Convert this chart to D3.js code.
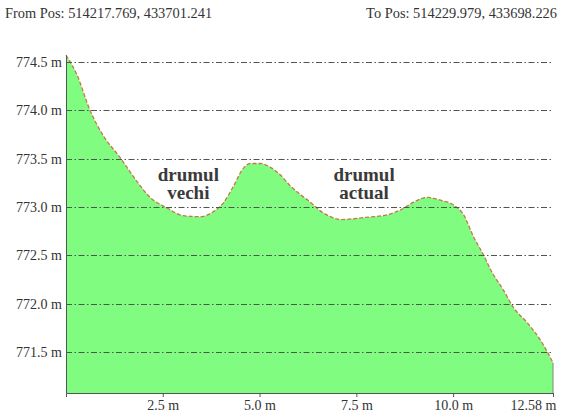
<!DOCTYPE html>
<html>
<head>
<meta charset="utf-8">
<script src="https://cdn.jsdelivr.net/npm/d3@7"></script>
<style>
  body { margin: 0; background: #fff; }
  svg { display: block; }
</style>
</head>
<body>
<svg id="chart" width="570" height="413"></svg>
<script>
// profile distance (m) and elevation (m)
const dist = [0, 0.28, 0.62, 0.96, 1.4, 1.84, 2.17, 2.61, 3.03, 3.47, 3.8, 4.06, 4.32, 4.58, 4.76,
  5.02, 5.28, 5.54, 5.79, 6.05, 6.31, 6.57, 6.83, 7.09, 7.68, 8.3, 8.64, 8.98, 9.34, 9.67,
  10.01, 10.27, 10.53, 10.79, 10.97, 11.3, 11.56, 11.92, 12.26, 12.58]
const elev = [774.57, 774.37, 774.0, 773.74, 773.51, 773.26, 773.1, 772.99, 772.91, 772.9, 772.95,
  773.04, 773.21, 773.4, 773.45, 773.45, 773.41, 773.33, 773.22, 773.13, 773.05, 772.96, 772.9,
  772.87, 772.89, 772.92, 772.97, 773.05, 773.1, 773.07, 773.02, 772.92, 772.69, 772.5, 772.35,
  772.14, 771.96, 771.8, 771.62, 771.39]

const xTicks = [2.5, 5.0, 7.5, 10.0, 12.58]
const yTicks = [771.5, 772.0, 772.5, 773.0, 773.5, 774.0, 774.5]
const yDomain = [771.076, 774.572]

const fromLabel = 'From Pos: 514217.769, 433701.241'
const toLabel = 'To Pos: 514229.979, 433698.226'
const notes = [
  { at: 3.16, lines: ['drumul', 'vechi'] },
  { at: 7.7, lines: ['drumul', 'actual'] },
]

const width = 570
const height = 413
const margin = { left: 66, right: 17, top: 55, bottom: 20 }
const font = 'Liberation Serif, serif'

const svg = d3.select('#chart')
const data = dist.map((d, i) => ({ d, e: elev[i] }))

const x = d3.scaleLinear()
  .domain([0, d3.max(dist)])
  .range([margin.left, width - margin.right])
const y = d3.scaleLinear()
  .domain(yDomain)
  .range([height - margin.bottom, margin.top])

// header
svg.append('g')
  .style('font-family', font)
  .attr('font-size', 14.4)
  .attr('fill', '#333')
  .call((g) => {
    g.append('text').attr('x', 5).attr('y', 18).text(fromLabel)
    g.append('text').attr('x', width - 13).attr('y', 18)
      .attr('text-anchor', 'end').text(toLabel)
  })

// ground
const area = d3.area()
  .x((p) => x(p.d))
  .y0(y(yDomain[0]))
  .y1((p) => y(p.e))
  .curve(d3.curveMonotoneX)
const line = d3.line()
  .x((p) => x(p.d))
  .y((p) => y(p.e))
  .curve(d3.curveMonotoneX)

svg.append('path')
  .attr('d', area(data))
  .attr('fill', '#80fc80')

svg.append('line')
  .attr('x1', x(dist[dist.length - 1])).attr('x2', x(dist[dist.length - 1]))
  .attr('y1', y(elev[elev.length - 1])).attr('y2', y(yDomain[0]))
  .attr('stroke', '#7a8a7a')
  .attr('stroke-width', 1)

svg.append('path')
  .attr('d', line(data))
  .attr('fill', 'none')
  .attr('stroke', '#c8764e')
  .attr('stroke-width', 1.3)
  .attr('stroke-dasharray', '4,2')

// grid lines (dash-dot), drawn over the ground
svg.append('g')
  .selectAll('line')
  .data(yTicks)
  .join('line')
  .attr('x1', x(0))
  .attr('x2', x(d3.max(dist)))
  .attr('y1', (v) => Math.round(y(v)) + 0.5)
  .attr('y2', (v) => Math.round(y(v)) + 0.5)
  .attr('stroke', '#4a5a4a')
  .attr('stroke-width', 1)
  .attr('stroke-dasharray', '6,2.5,1.5,2.5')

// axes
const xAxis = d3.axisBottom(x)
  .tickValues(xTicks)
  .tickSize(4)
  .tickSizeOuter(4)
  .tickPadding(3)
  .tickFormat((v) => (v === 12.58 ? '12.58 m' : v.toFixed(1) + ' m'))
const yAxis = d3.axisLeft(y)
  .tickValues(yTicks)
  .tickSize(0)
  .tickPadding(4)
  .tickFormat((v) => v.toFixed(1) + ' m')

svg.append('g')
  .attr('transform', `translate(0,${height - margin.bottom})`)
  .call(xAxis)
  .call((g) => {
    g.attr('font-family', font)
    g.selectAll('text')
      .attr('font-size', 14)
      .attr('fill', '#333')
    g.selectAll('.tick').filter((v) => v === 12.58)
      .select('text').attr('text-anchor', 'end').attr('dx', 3)
    g.selectAll('line, path').attr('stroke', '#555')
  })

svg.append('g')
  .attr('transform', `translate(${margin.left},0)`)
  .call(yAxis)
  .call((g) => {
    g.attr('font-family', font)
    g.selectAll('text')
      .attr('font-size', 14)
      .attr('fill', '#333')
    g.select('.domain').attr('stroke', '#555')
  })

// labels, one text element per note with a tspan per line
const noteG = svg.append('g')
  .style('font-family', font)
  .attr('font-size', 19)
  .attr('font-weight', 'bold')
  .attr('fill', '#3a3a3a')
  .attr('text-anchor', 'middle')
notes.forEach((n) => {
  const t = noteG.append('text')
    .attr('x', x(n.at))
    .attr('y', 181)
  n.lines.forEach((s, i) => {
    t.append('tspan')
      .attr('x', x(n.at))
      .attr('dy', i === 0 ? 0 : 18)
      .text(s)
  })
})
</script>
</body>
</html>
